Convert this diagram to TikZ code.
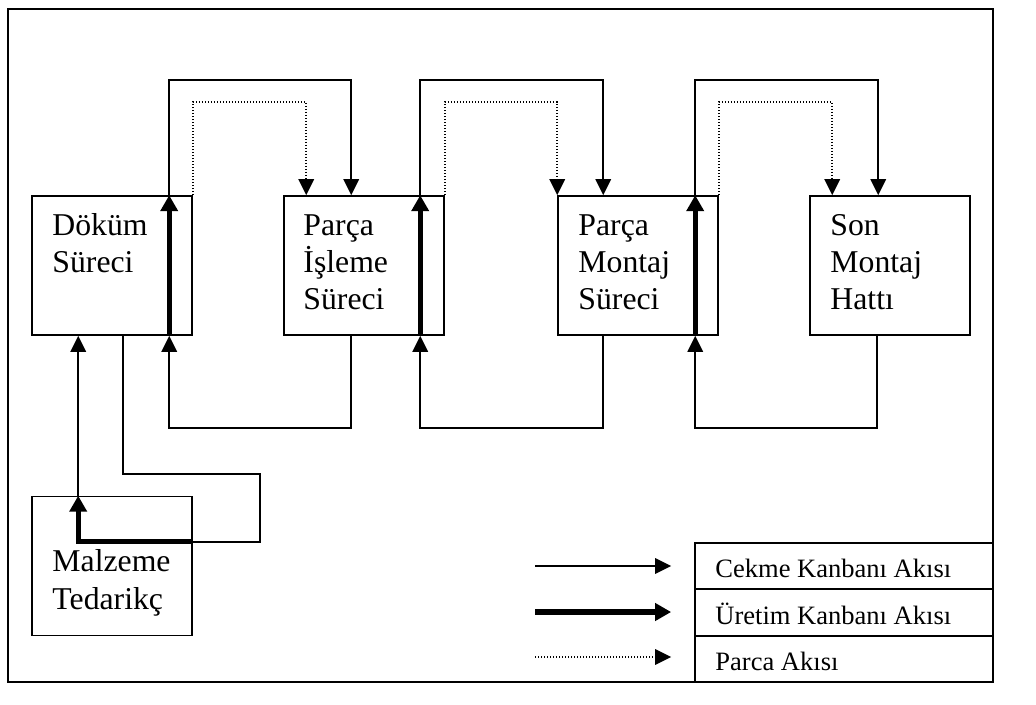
\documentclass[tikz,border=0pt]{standalone}
\usepackage{fontspec}
\setmainfont{Liberation Serif}
\usetikzlibrary{arrows.meta,calc}
% left-aligned lines whose baseline is the first line's baseline
\newcommand\linestack[1]{\vtop{\baselineskip=28pt\lineskiplimit=-60pt\lineskip=0pt\halign{##\hfil\cr#1\crcr}}}

\begin{document}
\begin{tikzpicture}[x=0.75pt,y=-0.75pt,
  proc/.style={draw,line width=1.2pt,minimum width=120pt,minimum height=104.25pt,inner sep=0pt},
  proctext/.style={anchor=base west,inner sep=0pt,font=\fontsize{23.8}{28}\selectfont},
  legrow/.style={draw,line width=1.3pt,minimum width=223.5pt,minimum height=34.75pt,inner sep=0pt},
  legtext/.style={anchor=base west,inner sep=0pt,font=\fontsize{19.9}{24}\selectfont},
  pull/.style={line width=1.25pt,-{Triangle[width=11.6pt,length=12pt]}},
  pullline/.style={line width=1.25pt},
  prod/.style={line width=4pt,-{Triangle[width=12.75pt,length=12pt]}},
  parts/.style={line width=1.3pt,dash pattern=on 1.1pt off 1.15pt,-{Triangle[width=11.6pt,length=12pt]}}
]
\useasboundingbox (0,0) rectangle (1036,704);

% outer frame
\draw[line width=1.6pt] (8,9) rectangle (993,682);

% process boxes
\node[proc] (dokum)  at (112,265.5) {};
\node[proc] (isleme) at (364,265.5) {};
\node[proc] (montaj) at (638,265.5) {};
\node[proc] (son)    at (890,265.5) {};
\node[proc] (malz)   at (112,566) {};

\node[proctext] (dokumtxt)  at ($(dokum.north west)+(21,40)$)  {\linestack{Döküm\cr Süreci}};
\node[proctext] (islemetxt) at ($(isleme.north west)+(20,40)$) {\linestack{Parça\cr İşleme\cr Süreci}};
\node[proctext] (montajtxt) at ($(montaj.north west)+(21,40)$) {\linestack{Parça\cr Montaj\cr Süreci}};
\node[proctext] (sontxt)    at ($(son.north west)+(21,40)$)    {\linestack{Son\cr Montaj\cr Hattı}};
\node[proctext] (malztxt)   at ($(malz.north west)+(21,76)$)   {\linestack{Malzeme\cr Tedarikç}};

% Döküm -> Parça İşleme
\draw[prod]  ($(dokum.south west)+(138,0)$) -- ($(dokum.north west)+(138,0)$);
\draw[pull]  ($(dokum.north west)+(138,0)$) -- ++(0,-115) -| ($(isleme.north west)+(68,0)$);
\draw[parts] (dokum.north east) -- ++(0,-93) -| ($(isleme.north west)+(23,0)$);
\draw[pull]  ($(isleme.south west)+(68,0)$) -- ++(0,92) -| ($(dokum.south west)+(138,0)$);

% Parça İşleme -> Parça Montaj
\draw[prod]  ($(isleme.south west)+(137,0)$) -- ($(isleme.north west)+(137,0)$);
\draw[pull]  ($(isleme.north west)+(137,0)$) -- ++(0,-115) -| ($(montaj.north west)+(46,0)$);
\draw[parts] (isleme.north east) -- ++(0,-93) -| (montaj.north west);
\draw[pull]  ($(montaj.south west)+(46,0)$) -- ++(0,92) -| ($(isleme.south west)+(137,0)$);

% Parça Montaj -> Son Montaj
\draw[prod]  ($(montaj.south west)+(138,0)$) -- ($(montaj.north west)+(138,0)$);
\draw[pull]  ($(montaj.north west)+(138,0)$) -- ++(0,-115) -| ($(son.north west)+(69,0)$);
\draw[parts] (montaj.north east) -- ++(0,-93) -| ($(son.north west)+(23,0)$);
\draw[pull]  ($(son.south west)+(68,0)$) -- ++(0,92) -| ($(montaj.south west)+(138,0)$);

% Malzeme Tedarikç <-> Döküm
\draw[pull]     ($(malz.north west)+(47,0)$) -- ($(dokum.south west)+(47,0)$);
\draw[pullline] ($(dokum.south west)+(92,0)$) -- ++(0,138) -- ++(137,0) |- ($(malz.north east)+(0,46)$);
\draw[prod]     ($(malz.north east)+(0,46)$) -| ($(malz.north west)+(47,0)$);

% legend
\node[legrow] (leg1) at (844,566.17) {};
\node[legrow] (leg2) at (844,612.5) {};
\node[legrow] (leg3) at (844,658.83) {};
\node[legtext] (legtxt1) at ($(leg1.west)+(21,11.8)$) {Cekme Kanbanı Akısı};
\node[legtext] (legtxt2) at ($(leg2.west)+(21,11.5)$) {Üretim Kanbanı Akısı};
\node[legtext] (legtxt3) at ($(leg3.west)+(21,11.2)$) {Parca Akısı};

\coordinate (la1) at (535,566);
\coordinate (la2) at (535,612);
\coordinate (la3) at (535,657);
\draw[pull]  (la1) -- ($(leg1.west)+(-23,-0.17)$);
\draw[prod]  (la2) -- ($(leg2.west)+(-23,-0.5)$);
\draw[parts] (la3) -- ($(leg3.west)+(-23,-1.83)$);
\end{tikzpicture}
\end{document}
